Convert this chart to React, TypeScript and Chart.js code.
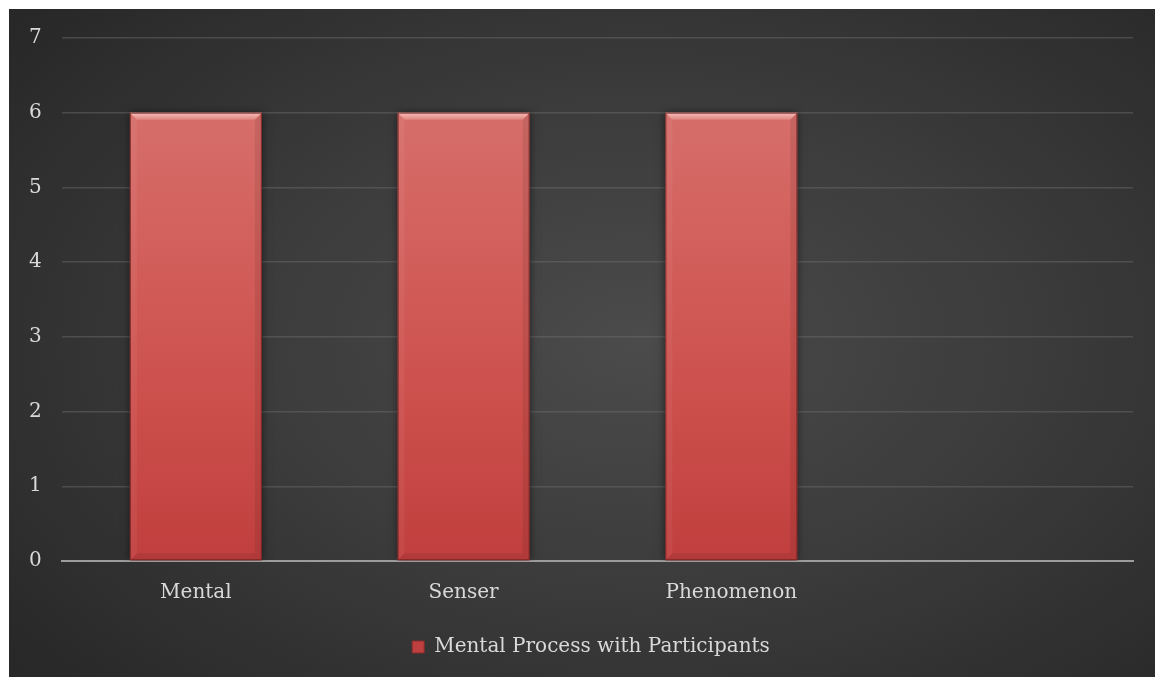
import React, { useEffect, useRef } from "react";
import { Chart, registerables } from "chart.js";

Chart.register(...registerables);

const categories = ["Mental", "Senser", "Phenomenon", ""];
const seriesName = "Mental Process with Participants";
const seriesValues = [6, 6, 6, null];
const yMin = 0;
const yMax = 7;

const FONT = "'DejaVu Serif', serif";

const legendShiftPlugin = {
  id: "legendShift",
  afterLayout(chart: any) {
    const lg = chart.legend;
    if (!lg) return;
    lg.left += 10;
    lg.right += 10;
  },
};

const bevelPlugin = {
  id: "bevel",
  beforeDatasetsDraw(chart: any) {
    const ctx = chart.ctx;
    ctx.save();
    ctx.shadowColor = "rgba(0,0,0,0.55)";
    ctx.shadowBlur = 8;
    ctx.shadowOffsetX = 0;
    ctx.shadowOffsetY = 0;
  },
  afterDatasetsDraw(chart: any) {
    const ctx = chart.ctx;
    ctx.restore();
    const meta = chart.getDatasetMeta(0);
    const data = chart.data.datasets[0].data;
    meta.data.forEach((bar: any, i: number) => {
      if (data[i] == null) return;
      const { x, y, base, width } = bar.getProps(["x", "y", "base", "width"], true);
      const l = x - width / 2;
      const r = x + width / 2;
      const t = y;
      const b = base;
      const s = 7;
      ctx.save();
      const gt = ctx.createLinearGradient(0, t, 0, t + s);
      gt.addColorStop(0, "#f6bdb8");
      gt.addColorStop(0.5, "#eda29d");
      gt.addColorStop(1, "#df8480");
      ctx.fillStyle = gt;
      ctx.beginPath();
      ctx.moveTo(l, t);
      ctx.lineTo(r, t);
      ctx.lineTo(r - s, t + s);
      ctx.lineTo(l + s, t + s);
      ctx.closePath();
      ctx.fill();
      ctx.fillStyle = "rgba(255,255,255,0.05)";
      ctx.beginPath();
      ctx.moveTo(l, t);
      ctx.lineTo(l + s, t + s);
      ctx.lineTo(l + s, b - s);
      ctx.lineTo(l, b);
      ctx.closePath();
      ctx.fill();
      ctx.fillStyle = "rgba(0,0,0,0.08)";
      ctx.beginPath();
      ctx.moveTo(r, t);
      ctx.lineTo(r - s, t + s);
      ctx.lineTo(r - s, b - s);
      ctx.lineTo(r, b);
      ctx.closePath();
      ctx.fill();
      ctx.fillStyle = "rgba(0,0,0,0.08)";
      ctx.beginPath();
      ctx.moveTo(l, b);
      ctx.lineTo(r, b);
      ctx.lineTo(r - s, b - s);
      ctx.lineTo(l + s, b - s);
      ctx.closePath();
      ctx.fill();
      ctx.strokeStyle = "rgba(110,30,30,0.8)";
      ctx.lineWidth = 1;
      ctx.strokeRect(l + 0.5, t + 0.5, width - 1, b - t - 1);
      ctx.restore();
    });
  },
};

export default function App() {
  const canvasRef = useRef<HTMLCanvasElement | null>(null);

  useEffect(() => {
    if (!canvasRef.current) return;
    const chart = new Chart(canvasRef.current, {
      type: "bar",
      data: {
        labels: categories,
        datasets: [
          {
            label: seriesName,
            data: seriesValues as any,
            backgroundColor: (c: any) => {
              const ch = c.chart;
              const ca = ch.chartArea;
              if (!ca) return "#cc5050";
              const g = ch.ctx.createLinearGradient(0, ca.top, 0, ca.bottom);
              g.addColorStop(0, "#d87672");
              g.addColorStop(0.35, "#d3625e");
              g.addColorStop(0.7, "#cc4f4c");
              g.addColorStop(1, "#c03f3e");
              return g;
            },
            borderWidth: 0,
            barPercentage: 0.493,
            categoryPercentage: 1,
          },
        ],
      },
      options: {
        animation: false,
        responsive: false,
        maintainAspectRatio: false,
        layout: { padding: { top: 29, left: 20, right: 22, bottom: 10 } },
        plugins: {
          legend: {
            display: true,
            position: "bottom",
            labels: {
              color: "#d9d9d9",
              font: { family: FONT, size: 20 },
              boxWidth: 12,
              boxHeight: 12,
              padding: 10,
              generateLabels: () => [
                {
                  text: seriesName,
                  fillStyle: "#c0403f",
                  strokeStyle: "#8a2c2c",
                  lineWidth: 1,
                  fontColor: "#d9d9d9",
                  datasetIndex: 0,
                  hidden: false,
                },
              ],
            },
          },
          tooltip: { enabled: false },
        },
        scales: {
          x: {
            grid: { display: false, drawTicks: false },
            border: { display: true, color: "#9c9c9c", width: 2 },
            ticks: {
              color: "#d9d9d9",
              font: { family: FONT, size: 20 },
              padding: 20,
              maxRotation: 0,
              autoSkip: false,
            },
            afterFit: (scale: any) => {
              scale.height = 66;
            },
          },
          y: {
            min: yMin,
            max: yMax,
            grid: { color: "rgba(110,110,110,0.45)", lineWidth: 1.5, drawTicks: false },
            border: { display: false },
            ticks: {
              stepSize: 1,
              color: "#d9d9d9",
              font: { family: FONT, size: 20 },
              padding: 4,
              crossAlign: "far",
            },
            afterFit: (scale: any) => {
              scale.width = 33;
            },
          },
        },
      },
      plugins: [bevelPlugin, legendShiftPlugin],
    });
    return () => chart.destroy();
  }, []);

  return (
    <div
      style={{
        position: "absolute",
        left: 9,
        top: 9,
        width: 1146,
        height: 668,
        background:
          "radial-gradient(ellipse 70% 75% at 55% 50%, #4b4b4b 0%, #3b3b3b 50%, #282828 100%)",
      }}
    >
      <canvas ref={canvasRef} width={1146} height={668} style={{ display: "block" }} />
    </div>
  );
}
